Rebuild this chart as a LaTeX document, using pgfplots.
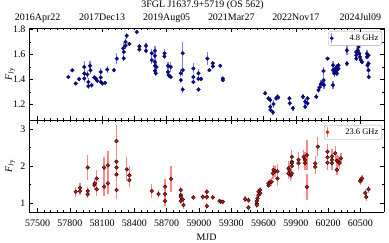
\documentclass[border=0pt]{standalone}
\usepackage{fontspec}
\setmainfont{Liberation Serif}
\usepackage{pgfplots}
\pgfplotsset{compat=1.18}
\usepackage{pgfplotstable}
\definecolor{ptblue}{RGB}{12,12,140}
\definecolor{errblue}{RGB}{125,125,245}
\definecolor{ptred}{RGB}{210,20,20}
\definecolor{errred}{RGB}{250,135,135}

\pgfplotstableread{
mjd f e
57786 1.420 0.012
57823 1.474 0.012
57854 1.368 0.012
57885 1.403 0.012
57934 1.500 0.050
57934 1.448 0.035
57934 1.408 0.025
57962 1.440 0.030
57972 1.380 0.030
57972 1.347 0.020
57987 1.510 0.040
57992 1.474 0.030
58003 1.355 0.020
58027 1.416 0.020
58040 1.408 0.020
58055 1.390 0.015
58087 1.460 0.030
58087 1.416 0.020
58087 1.380 0.015
58102 1.368 0.015
58127 1.373 0.012
58148 1.480 0.030
58211 1.474 0.015
58236 1.567 0.045
58297 1.650 0.040
58301 1.620 0.030
58301 1.570 0.020
58318 1.700 0.030
58318 1.670 0.025
58329 1.750 0.025
58353 1.685 0.015
58422 1.780 0.010
58446 1.665 0.020
58446 1.640 0.020
58508 1.670 0.025
58508 1.630 0.020
58561 1.610 0.030
58561 1.555 0.030
58592 1.630 0.040
58592 1.590 0.040
58592 1.540 0.030
58592 1.510 0.030
58592 1.470 0.030
58598 1.450 0.020
58605 1.500 0.030
58679 1.610 0.030
58679 1.585 0.020
58713 1.510 0.030
58713 1.460 0.030
58718 1.435 0.020
58738 1.500 0.040
58738 1.420 0.020
58831 1.450 0.030
58831 1.395 0.020
58850 1.610 0.090
58850 1.475 0.050
58850 1.320 0.030
58948 1.488 0.040
58948 1.420 0.020
58948 1.380 0.020
58995 1.450 0.030
58995 1.405 0.020
58995 1.320 0.020
59020 1.405 0.015
59079 1.567 0.050
59097 1.475 0.015
59129 1.530 0.020
59129 1.505 0.020
59197 1.510 0.015
59222 1.408 0.015
59222 1.395 0.015
59615 1.289 0.015
59646 1.249 0.020
59662 1.236 0.025
59662 1.182 0.025
59664 1.156 0.020
59687 1.138 0.020
59693 1.204 0.030
59718 1.249 0.020
59730 1.262 0.020
59735 1.255 0.015
59841 1.249 0.020
59843 1.210 0.020
59873 1.170 0.020
59966 1.262 0.020
59987 1.222 0.020
59987 1.182 0.020
60009 1.249 0.020
60009 1.210 0.020
60090 1.262 0.020
60111 1.315 0.020
60121 1.336 0.025
60133 1.363 0.030
60142 1.373 0.025
60158 1.395 0.040
60158 1.468 0.030
60162 1.355 0.030
60195 1.567 0.015
60245 1.514 0.030
60245 1.474 0.020
60245 1.355 0.030
60257 1.448 0.025
60267 1.487 0.030
60267 1.460 0.020
60282 1.500 0.020
60282 1.474 0.020
60282 1.448 0.020
60297 1.514 0.020
60297 1.487 0.020
60375 1.633 0.040
60375 1.527 0.020
60462 1.620 0.030
60462 1.594 0.020
60462 1.567 0.020
60477 1.633 0.020
60482 1.660 0.030
60490 1.607 0.020
60497 1.580 0.030
60505 1.554 0.020
60515 1.540 0.020
60561 1.607 0.025
60561 1.580 0.020
60567 1.514 0.030
60576 1.594 0.020
60576 1.527 0.020
60576 1.474 0.030
60578 1.420 0.020
}\tabA

\pgfplotstableread{
mjd f e
57854 1.30 0.14
57894 1.41 0.12
57894 1.32 0.10
57966 1.96 0.35
57966 1.32 0.10
57966 1.23 0.10
58028 1.48 0.12
58031 1.53 0.12
58050 1.66 0.22
58050 1.37 0.18
58118 1.96 0.30
58118 1.44 0.25
58153 2.02 0.38
58153 1.53 0.30
58233 2.68 0.45
58233 2.12 0.30
58233 1.96 0.30
58233 1.77 0.30
58233 1.35 0.25
58329 1.91 0.33
58353 1.75 0.25
58353 1.62 0.20
58561 1.32 0.20
58623 1.24 0.12
58685 1.44 0.20
58685 1.24 0.15
58685 1.05 0.15
58741 1.65 0.35
58831 1.35 0.10
58831 1.21 0.10
58831 1.16 0.08
58831 1.05 0.08
58850 1.09 0.08
58856 0.94 0.12
58948 1.15 0.07
59036 1.16 0.07
59073 1.30 0.08
59073 1.16 0.07
59073 0.91 0.08
59129 1.15 0.07
59191 1.05 0.05
59203 1.03 0.05
59222 1.03 0.05
59429 1.10 0.08
59460 1.07 0.08
59460 0.87 0.08
59538 1.05 0.08
59538 0.98 0.08
59538 0.94 0.08
59544 1.12 0.08
59553 1.21 0.08
59553 1.30 0.08
59569 1.35 0.08
59569 1.26 0.08
59646 1.47 0.08
59646 1.53 0.08
59660 1.55 0.10
59675 1.57 0.10
59687 1.80 0.15
59693 1.89 0.15
59708 1.86 0.15
59730 1.66 0.20
59730 1.86 0.20
59832 1.94 0.20
59832 1.80 0.15
59841 1.89 0.20
59854 1.75 0.15
59863 1.80 0.15
59863 2.25 0.20
59863 2.12 0.20
59863 2.08 0.20
59863 2.00 0.20
59925 2.08 0.20
59925 2.17 0.20
59972 2.25 0.20
59987 2.17 0.20
59987 2.08 0.20
60003 2.30 0.40
60003 1.43 0.35
60080 2.07 0.20
60080 1.98 0.20
60105 2.53 0.25
60195 2.39 0.20
60195 2.24 0.20
60195 2.09 0.20
60236 2.26 0.20
60236 2.17 0.20
60236 2.08 0.20
60267 2.35 0.20
60282 2.15 0.15
60282 1.90 0.15
60297 2.12 0.15
60306 2.08 0.15
60319 2.21 0.15
60499 1.59 0.10
60508 1.64 0.10
60515 1.66 0.10
60546 1.27 0.10
60555 1.16 0.10
60576 1.37 0.10
}\tabB

\pgfplotsset{
  panel/.style={
    width=355bp, scale only axis,
    xmin=57420, xmax=60720,
    scaled x ticks=false, scaled y ticks=false,
    tick align=inside,
    major tick length=4bp, minor tick length=2bp,
    every tick/.style={black, line width=0.5bp},
    axis line style={line width=0.6bp},
    tick label style={font=\fontsize{10}{12}\selectfont},
    /pgf/number format/assume math mode=true,
    /pgf/number format/set thousands separator={},
    label style={font=\fontsize{10}{12}\selectfont},
  },
  legstyle/.style={
    legend style={at={(1,1)}, anchor=north east, xshift=-2bp, yshift=-3bp,
      draw=gray!70, rounded corners=2bp,
      font=\fontsize{8.5}{10}\selectfont,
      inner sep=1.5bp, row sep=0bp},
    legend cell align=right,
  },
  every axis y label/.style={at={(axis description cs:0,0.5)}, xshift=-19bp, rotate=90, anchor=center},
}

\begin{document}
\begin{tikzpicture}
% ---------- lower panel ----------
\begin{axis}[panel, name=B, at={(0,0)}, anchor=south west,
  height=91.5bp, ymin=0.75, ymax=3.24,
  axis x line*=bottom,
  xtick={57500,57800,...,60500}, minor x tick num=4,
  xticklabel style={yshift=-4.5bp},
  ytick={1,2,3}, minor y tick num=1,
  xlabel={MJD},
  every axis x label/.style={at={(axis description cs:0.5,0)}, anchor=base, yshift=-28bp},
  ylabel={\textit{F}\textsubscript{Jy}},
  legstyle, legend style={yshift=-1.5bp},
]
\addplot[only marks, mark=*, mark size=1.9bp,
  mark options={fill=ptred, draw=black, line width=0.35bp},
  error bars/.cd, y dir=both, y explicit, error mark=none,
  error bar style={errred, line width=1.3bp},
  /pgfplots/legend image code/.code={\draw[errred, line width=1.3bp] (0.3cm,-0.17cm)--(0.3cm,0.17cm); \fill[ptred] (0.3cm,0) circle (1.6bp);}]
  table[x=mjd, y=f, y error=e] {\tabB};
\addlegendentry{\hspace*{14bp}23.6 GHz}
\end{axis}
\begin{axis}[panel, at={(0,0)}, anchor=south west,
  height=91.5bp, ymin=0.75, ymax=3.24,
  axis x line*=top, hide y axis,
  xtick={57500,58100,...,60500}, minor x tick num=9,
  xticklabel=\empty]
\addplot[draw=none] coordinates {(58000,1)};
\end{axis}
% ---------- upper panel ----------
\begin{axis}[panel, name=A, at={(0,91.5bp)}, anchor=south west,
  height=92.5bp, ymin=1.072, ymax=1.812,
  axis x line*=bottom,
  xtick={57500,57800,...,60500}, minor x tick num=4,
  xticklabel=\empty,
  ytick={1.2,1.4,1.6,1.8}, minor y tick num=1,
  yticklabel style={/pgf/number format/fixed, /pgf/number format/fixed zerofill, /pgf/number format/precision=1},
  ylabel={\textit{F}\textsubscript{Jy}},
  legstyle,
]
\addplot[only marks, mark=*, mark size=1.9bp,
  mark options={fill=ptblue, draw=ptblue!70!black, line width=0.3bp},
  error bars/.cd, y dir=both, y explicit, error mark=none,
  error bar style={errblue, line width=1.3bp},
  /pgfplots/legend image code/.code={\draw[errblue, line width=1.3bp] (0.3cm,-0.17cm)--(0.3cm,0.17cm); \fill[ptblue] (0.3cm,0) circle (1.6bp);}]
  table[x=mjd, y=f, y error=e] {\tabA};
\addlegendentry{\hspace*{14bp}4.8 GHz}
\end{axis}
\begin{axis}[panel, at={(0,91.5bp)}, anchor=south west,
  height=92.5bp, ymin=1.072, ymax=1.812,
  axis x line*=top, hide y axis, clip=false,
  xtick={57500,58100,...,60500}, minor x tick num=9,
  xticklabels={2016Apr22,2017Dec13,2019Aug05,2021Mar27,2022Nov17,2024Jul09},
  xticklabel style={anchor=base, yshift=7.5bp}]
\addplot[draw=none] coordinates {(58000,1.5)};
\node[anchor=base, font=\fontsize{10}{12}\selectfont, yshift=20bp, xshift=-4bp] at (rel axis cs:0.5,1) {3FGL J1637.9+5719 (OS 562)};
\end{axis}
\pgfresetboundingbox
\path[use as bounding box] (-29bp,-31bp) rectangle (360bp,212bp);
\end{tikzpicture}
\end{document}
